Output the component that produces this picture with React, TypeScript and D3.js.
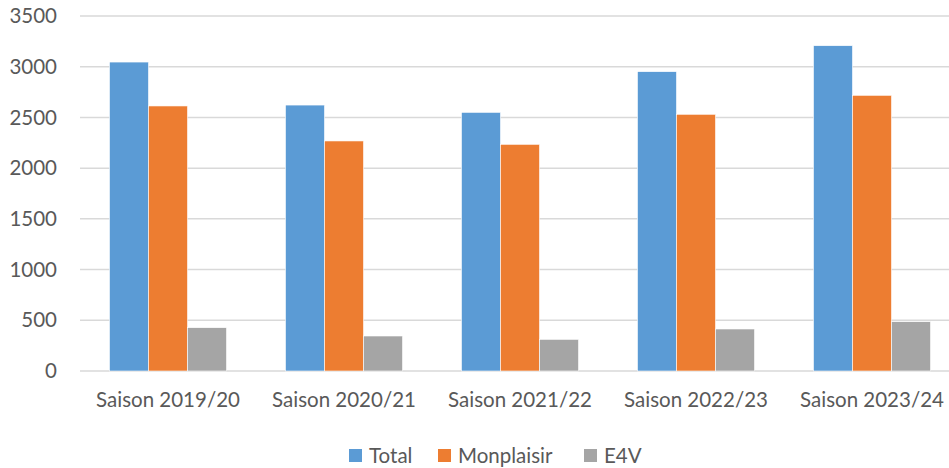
import React, { useEffect, useRef } from "react";
import * as d3 from "d3";

const categories = ["Saison 2019/20", "Saison 2020/21", "Saison 2021/22", "Saison 2022/23", "Saison 2023/24"];
const seriesNames = ["Total", "Monplaisir", "E4V"];
const total = [3046, 2622, 2550, 2951, 3207];
const monplaisir = [2613, 2268, 2235, 2531, 2718];
const e4v = [427, 345, 312, 414, 486];
const yTicks = [0, 500, 1000, 1500, 2000, 2500, 3000, 3500];
const colors = ["#5B9BD5", "#ED7D31", "#A5A5A5"];

const W = 949;
const H = 468;
const FONT = "Lato, sans-serif";
const FS = 20.5;

export default function App() {
  const ref = useRef<SVGSVGElement>(null);

  useEffect(() => {
    const svg = d3.select(ref.current);
    svg.selectAll("*").remove();
    const values = [total, monplaisir, e4v];

    const x = d3.scaleBand<string>().domain(categories).range([80, 960]).paddingInner(0.335).paddingOuter(0.1675);
    const xs = d3.scaleBand<number>().domain([0, 1, 2]).range([0, x.bandwidth()]);
    const y = d3.scaleLinear().domain([0, 3500]).range([371, 16]);

    // gridlines
    svg.append("g").selectAll("line").data(yTicks).join("line")
      .attr("x1", 80).attr("x2", W).attr("y1", d => y(d)).attr("y2", d => y(d))
      .attr("stroke", "#D9D9D9").attr("stroke-width", 1.5);

    // y labels
    svg.append("g").selectAll("text").data(yTicks).join("text")
      .attr("x", 57).attr("y", d => y(d)).attr("dy", "0.35em")
      .attr("text-anchor", "end").attr("font-family", FONT).attr("font-size", FS)
      .attr("fill", "#595959").text(d => d);

    // bars
    const groups = svg.append("g").selectAll("g").data(categories).join("g")
      .attr("transform", d => `translate(${x(d)},0)`);
    groups.selectAll("rect").data((_, i) => values.map((v, s) => ({ s, v: v[i] }))).join("rect")
      .attr("x", d => xs(d.s)!).attr("width", xs.bandwidth())
      .attr("y", d => y(d.v)).attr("height", d => y(0) - y(d.v))
      .attr("fill", d => colors[d.s]).attr("stroke", "#fff").attr("stroke-width", 0.6);

    // x labels
    svg.append("g").selectAll("text").data(categories).join("text")
      .attr("x", d => x(d)! + x.bandwidth() / 2).attr("y", 407)
      .attr("text-anchor", "middle").attr("font-family", FONT).attr("font-size", FS)
      .attr("fill", "#595959").text(d => d);

    // legend
    const legX = [349, 438, 584];
    const leg = svg.append("g").selectAll("g").data(seriesNames).join("g")
      .attr("transform", (_, i) => `translate(${legX[i]},449)`);
    leg.append("rect").attr("width", 13).attr("height", 13).attr("fill", (_, i) => colors[i]);
    leg.append("text").attr("x", 20).attr("y", 6.5).attr("dy", "0.35em")
      .attr("font-family", FONT).attr("font-size", FS).attr("fill", "#595959").text(d => d);
  }, []);

  return <svg ref={ref} width={W} height={H} style={{ display: "block", position: "absolute", left: 0, top: 0 }} />;
}
